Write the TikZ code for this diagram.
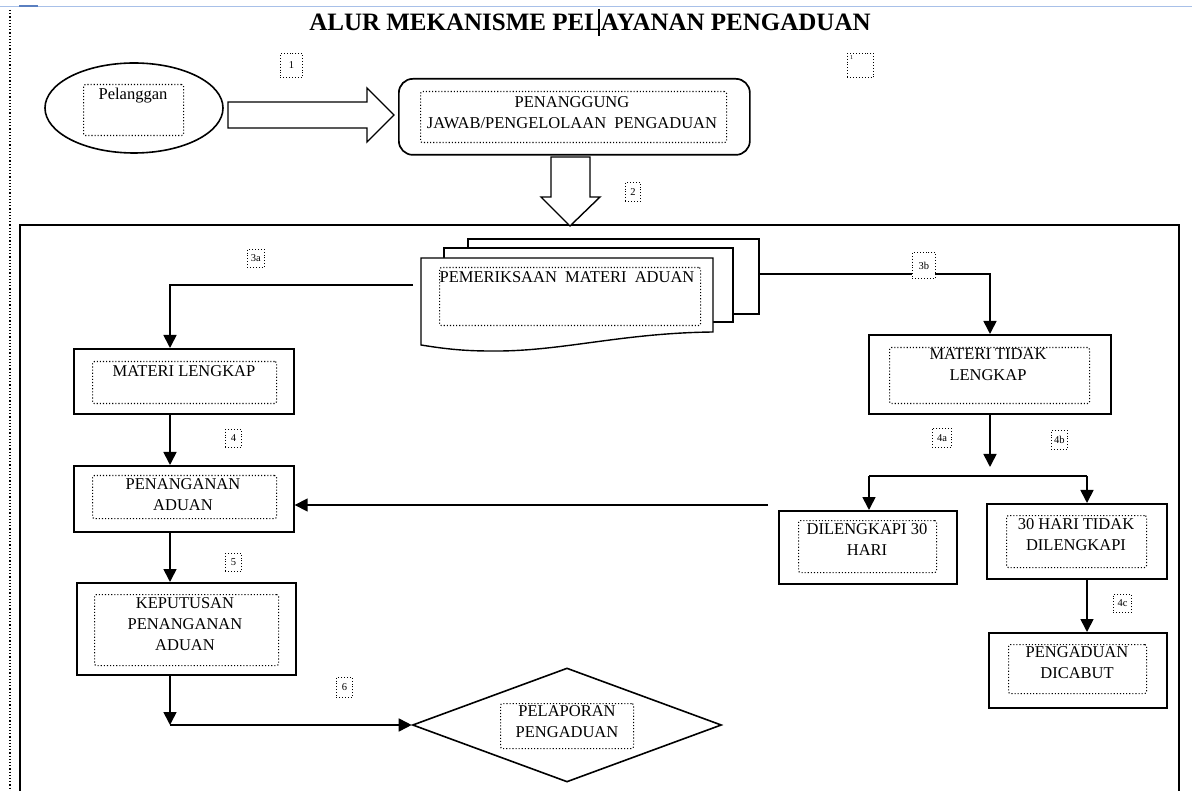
\documentclass[tikz,border=0pt]{standalone}
\usepackage{fontspec}
\setmainfont{Liberation Serif}
\usetikzlibrary{arrows.meta,shapes.geometric}
\definecolor{topblue}{HTML}{A8C0E8}
\definecolor{darkblue}{HTML}{5A7FC0}
\begin{document}
\begin{tikzpicture}[x=1pt,y=-1pt,
  box/.style={draw, line width=1.7pt, anchor=north west, inner sep=0},
  inbox/.style={draw, dotted, line width=1.1pt, rounded corners=2pt, anchor=north west, inner sep=0},
  txt/.style={font=\fontsize{16.5}{21}\selectfont, align=center, inner sep=0, anchor=north},
  lab/.style={draw, dotted, line width=0.9pt, fill=white, font=\fontsize{10.5}{11}\selectfont, inner sep=0, anchor=north west},
  conn/.style={line width=1.7pt, -{Triangle[width=13pt,length=13pt]}},
  plain/.style={line width=1.7pt},
  blockarrow/.style={draw, line width=1.4pt, fill=white, line join=miter}
]
\useasboundingbox (0,0) rectangle (1192,791);
% page marks
\draw[topblue, line width=1.5pt] (0,6.5) -- (1192,6.5);
\draw[darkblue, line width=2.5pt] (19,6) -- (38,6);
\draw[dotted, line width=1.2pt] (10,10) -- (10,791);
% title
\node[font=\bfseries\fontsize{25}{30}\selectfont, anchor=base, inner sep=0] (title) at (590,31) {ALUR MEKANISME PELAYANAN PENGADUAN};
\draw[line width=1.4pt] (599,9) -- (599,36);
% Pelanggan
\node[draw, ellipse, line width=1.6pt, minimum width=178pt, minimum height=90pt, inner sep=0] (pel) at (134,108) {};
\node[inbox, minimum width=100pt, minimum height=51pt] (pelin) at (83,84) {};
\node[txt] (pelt) at (133,88) {Pelanggan};
% block arrow right
\draw[blockarrow] (228,102) -- (367,102) -- (367,88) -- (394,115) -- (367,142) -- (367,128) -- (228,128) -- cycle;
% PJ
\node[box, rounded corners=14pt, minimum width=351pt, minimum height=76pt] (pj) at (398,78) {};
\node[inbox, minimum width=306pt, minimum height=51pt] (pjin) at (420,91) {};
\node[txt] (pjt) at (572,96) {PENANGGUNG\\JAWAB/PENGELOLAAN\ \ PENGADUAN};
% frame
\draw[line width=1.3pt] (20,800) -- (20,225) -- (1179,225) -- (1179,800);
% block arrow down
\draw[blockarrow] (551,157) -- (590,157) -- (590,197) -- (600,197) -- (570,226) -- (541,197) -- (551,197) -- cycle;
% documents
\draw[line width=1.4pt, fill=white] (468,239) rectangle (759,314);
\draw[line width=1.4pt, fill=white] (444,248) rectangle (733,322);
\draw[line width=1.4pt, fill=white] (421,258) -- (713,258) -- (713,332) .. controls (620,333) and (560,352) .. (490,351) .. controls (460,351) and (440,348) .. (421,345) -- cycle;
\node[inbox, minimum width=261pt, minimum height=58pt] (docin) at (439,267) {};
\node[txt] (doct) at (567,271) {PEMERIKSAAN\ \ MATERI\ \ ADUAN};
% left column
\node[box, minimum width=220pt, minimum height=65pt] (ml) at (73,348) {};
\node[inbox, minimum width=184pt, minimum height=42pt] (mlin) at (92,361) {};
\node[txt] (mlt) at (184,365) {MATERI LENGKAP};
\node[box, minimum width=220pt, minimum height=66pt] (pen) at (73,465) {};
\node[inbox, minimum width=184pt, minimum height=43pt] (penin) at (92,475) {};
\node[txt] (pent) at (183,478) {PENANGANAN\\ADUAN};
\node[box, minimum width=219pt, minimum height=92pt] (kep) at (76,582) {};
\node[inbox, minimum width=184pt, minimum height=71pt] (kepin) at (94,594) {};
\node[txt] (kept) at (185,597) {KEPUTUSAN\\PENANGANAN\\ADUAN};
% diamond
\node[draw, diamond, line width=1.6pt, minimum width=309pt, minimum height=114pt, inner sep=0] (dia) at (567,725) {};
\node[inbox, minimum width=133pt, minimum height=45pt] (diain) at (500,703) {};
\node[txt] (diat) at (567,705) {PELAPORAN\\PENGADUAN};
% right column
\node[box, minimum width=242pt, minimum height=79pt] (mtl) at (868,334) {};
\node[inbox, minimum width=200pt, minimum height=56pt] (mtlin) at (889,347) {};
\node[txt] (mtlt) at (988,348) {MATERI TIDAK\\LENGKAP};
\node[box, minimum width=178pt, minimum height=73pt] (dil) at (778,510) {};
\node[inbox, minimum width=138pt, minimum height=52pt] (dilin) at (798,520) {};
\node[txt] (dilt) at (867,523) {DILENGKAPI 30\\HARI};
\node[box, minimum width=180pt, minimum height=75pt] (thd) at (986,503) {};
\node[inbox, minimum width=140pt, minimum height=52pt] (thdin) at (1006,515) {};
\node[txt] (thdt) at (1076,518) {30 HARI TIDAK\\DILENGKAPI};
\node[box, minimum width=178pt, minimum height=75pt] (dic) at (988,632) {};
\node[inbox, minimum width=138pt, minimum height=49pt] (dicin) at (1008,644) {};
\node[txt] (dict) at (1077,646) {PENGADUAN\\DICABUT};
% helper coordinates
\coordinate (xl) at (170,0);
\coordinate (xr) at (990,0);
\coordinate (xrr) at (1087,0);
\coordinate (docl) at (413,285);
\coordinate (docr) at (759,274);
\coordinate (corner) at (170,725);
\coordinate (split) at (990,467);
\coordinate (splitl) at (869,476);
\coordinate (splitr) at (1087,476);
\coordinate (back) at (768,505);
% connectors
\draw[conn] (docl) -| (ml.north -| xl);
\draw[conn] (ml.south -| xl) -- (pen.north -| xl);
\draw[conn] (pen.south -| xl) -- (kep.north -| xl);
\draw[conn] (kep.south -| xl) -- (corner);
\draw[conn] (corner) -- (dia.west);
\draw[conn] (docr) -| (mtl.north -| xr);
\draw[conn] (mtl.south -| xr) -- (split);
\draw[plain] (splitl) -- (splitr);
\draw[conn] (splitl) -- (dil.north -| splitl);
\draw[conn] (splitr) -- (thd.north -| splitr);
\draw[conn] (thd.south -| xrr) -- (dic.north -| xrr);
\draw[conn] (back) -- (pen.east |- back);
% step labels
\node[lab, minimum width=22pt, minimum height=24pt] (l1) at (280,53) {1};
\node[lab, minimum width=26pt, minimum height=24pt] (l1b) at (847,53) {};
\node[font=\fontsize{6}{6}\selectfont, inner sep=0, anchor=north west] (l1bt) at (850,55) {1};
\node[lab, minimum width=15pt, minimum height=19pt] (l2) at (625,182) {2};
\node[lab, minimum width=17pt, minimum height=18pt] (l3a) at (247,249) {3a};
\node[lab, minimum width=23pt, minimum height=26pt] (l3b) at (912,252) {3b};
\node[lab, minimum width=16pt, minimum height=18pt] (l4) at (225,429) {4};
\node[lab, minimum width=16pt, minimum height=18pt] (l5) at (225,553) {5};
\node[lab, minimum width=16pt, minimum height=20pt] (l6) at (336,677) {6};
\node[lab, minimum width=19pt, minimum height=19pt] (l4a) at (932,428) {4a};
\node[lab, minimum width=16pt, minimum height=19pt] (l4b) at (1051,430) {4b};
\node[lab, minimum width=18pt, minimum height=18pt] (l4c) at (1113,594) {4c};
\end{tikzpicture}
\end{document}
